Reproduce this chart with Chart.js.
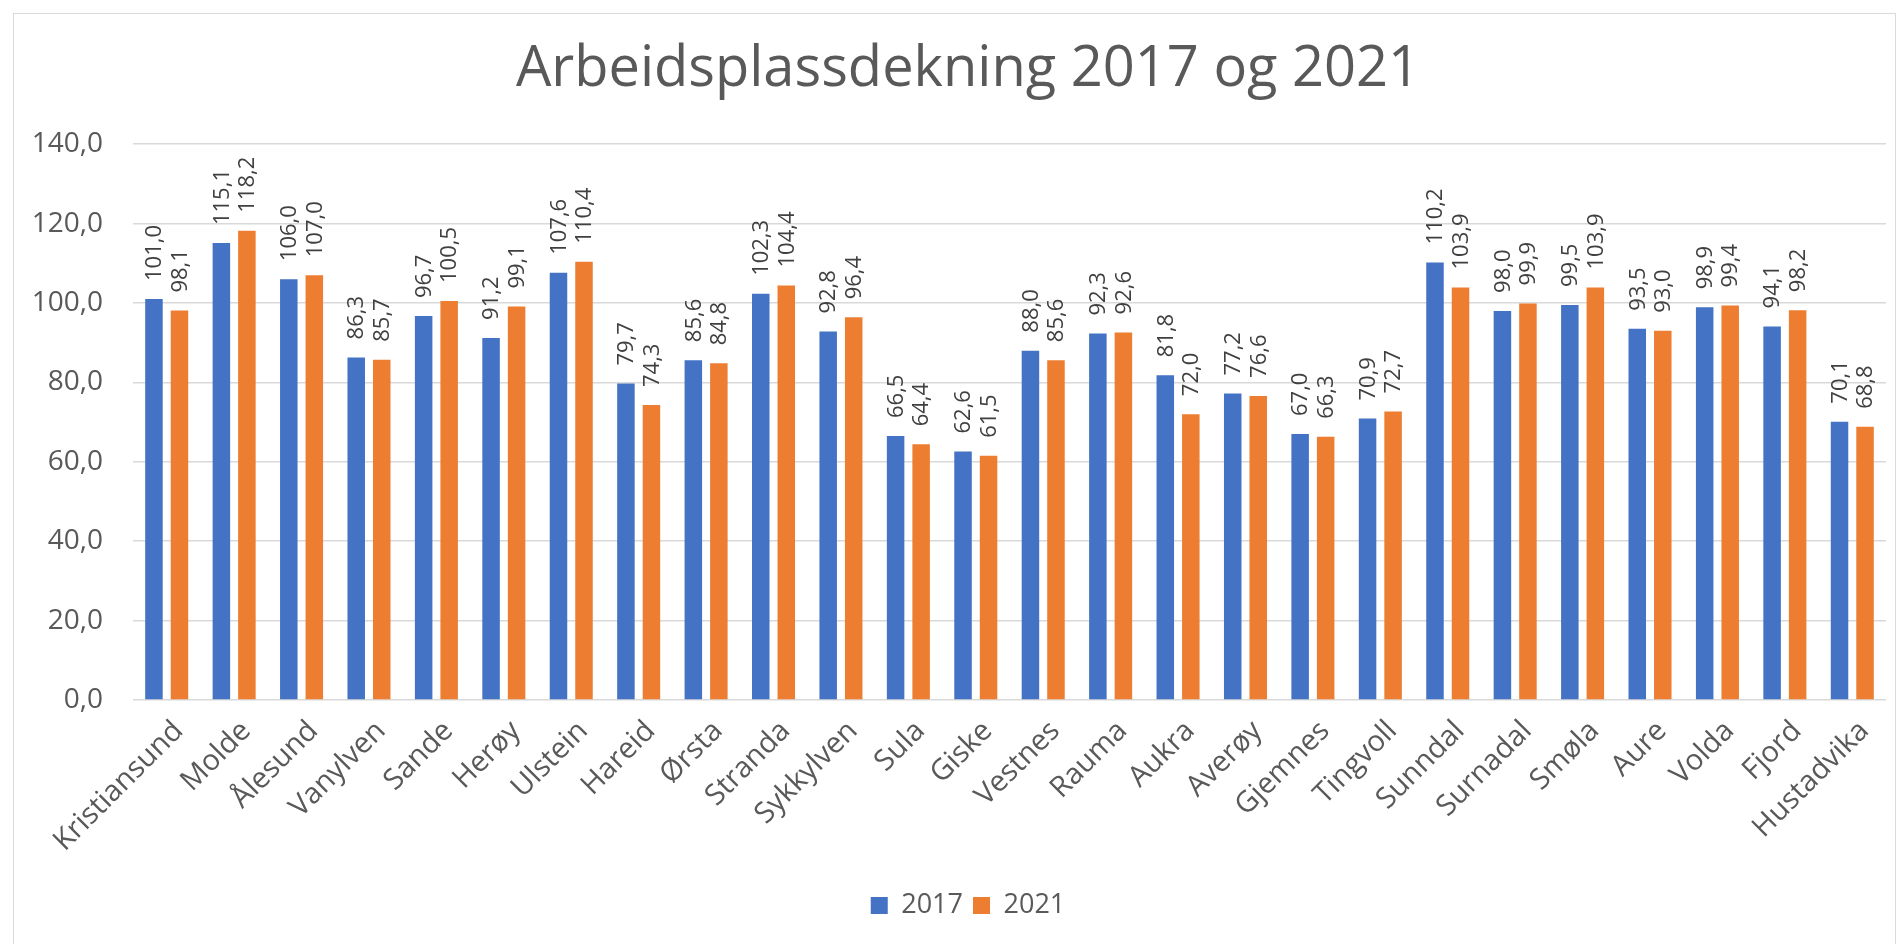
<!DOCTYPE html>
<html>
<head>
<meta charset="utf-8">
<title>Arbeidsplassdekning 2017 og 2021</title>
<script src="https://cdn.jsdelivr.net/npm/chart.js@4.4.0/dist/chart.umd.min.js"></script>
<style>
    body { margin: 0; background: #ffffff; }
    #wrap { position: relative; width: 1897px; height: 944px; overflow: hidden; }
    #frame {
        position: absolute; left: 13px; top: 13px; width: 1881px; height: 950px;
        border: 1px solid #d9d9d9; pointer-events: none;
    }
</style>
</head>
<body>
<div id="wrap">
    <canvas id="jobChart" width="1897" height="944"></canvas>
    <div id="frame"></div>
</div>
<script>
let kommuner = ["Kristiansund", "Molde", "Ålesund", "Vanylven", "Sande", "Herøy", "Ulstein", "Hareid",
    "Ørsta", "Stranda", "Sykkylven", "Sula", "Giske", "Vestnes", "Rauma", "Aukra", "Averøy", "Gjemnes",
    "Tingvoll", "Sunndal", "Surnadal", "Smøla", "Aure", "Volda", "Fjord", "Hustadvika"];

let values2017 = [101.0, 115.1, 106.0, 86.3, 96.7, 91.2, 107.6, 79.7, 85.6, 102.3, 92.8, 66.5, 62.6,
    88.0, 92.3, 81.8, 77.2, 67.0, 70.9, 110.2, 98.0, 99.5, 93.5, 98.9, 94.1, 70.1];

let values2021 = [98.1, 118.2, 107.0, 85.7, 100.5, 99.1, 110.4, 74.3, 84.8, 104.4, 96.4, 64.4, 61.5,
    85.6, 92.6, 72.0, 76.6, 66.3, 72.7, 103.9, 99.9, 103.9, 93.0, 99.4, 98.2, 68.8];

let seriesNames = ["2017", "2021"];
let yTicks = [0, 20, 40, 60, 80, 100, 120, 140];

let textGrey = "#595959";
let fontName = "'Open Sans', 'Liberation Sans', sans-serif";

function norsk(v) {
    return v.toFixed(1).replace(".", ",");
}

// Rotated value labels above each bar
let barLabels = {
    id: "barLabels",
    afterDatasetsDraw: function (chart) {
        let ctx = chart.ctx;
        ctx.save();
        ctx.font = "22px " + fontName;
        ctx.fillStyle = "#404040";
        ctx.textAlign = "left";
        ctx.textBaseline = "middle";
        chart.data.datasets.forEach(function (ds, i) {
            let meta = chart.getDatasetMeta(i);
            meta.data.forEach(function (bar, j) {
                ctx.save();
                ctx.translate(bar.x, bar.y - 18);
                ctx.rotate(-Math.PI / 2);
                ctx.fillText(norsk(ds.data[j]), 0, 1);
                ctx.restore();
            });
        });
        ctx.restore();
    }
};

// Title and legend sit a bit right of the canvas centre in the original
let nudgeBlocks = {
    id: "nudgeBlocks",
    afterLayout: function (chart) {
        [chart.titleBlock, chart.legend].forEach(function (box) {
            if (!box) return;
            box.left += 25;
            box.right += 25;
        });
    }
};

let ctx = document.getElementById("jobChart").getContext("2d");

let chart = new Chart(ctx, {
    type: "bar",
    data: {
        labels: kommuner,
        datasets: [
            {
                label: seriesNames[0],
                data: values2017,
                backgroundColor: "#4472C4",
                categoryPercentage: 0.757,
                barPercentage: 0.686
            },
            {
                label: seriesNames[1],
                data: values2021,
                backgroundColor: "#ED7D31",
                categoryPercentage: 0.757,
                barPercentage: 0.686
            }
        ]
    },
    options: {
        responsive: false,
        animation: false,
        layout: {
            padding: { left: 0, right: 11, top: 0, bottom: 15 }
        },
        plugins: {
            title: {
                display: true,
                text: "Arbeidsplassdekning 2017 og 2021",
                color: textGrey,
                font: { family: fontName, size: 56, weight: "normal", lineHeight: 1.2 },
                padding: { top: 36, bottom: 41 }
            },
            legend: {
                position: "bottom",
                labels: {
                    color: textGrey,
                    boxWidth: 17,
                    boxHeight: 17,
                    padding: 10,
                    font: { family: fontName, size: 27 }
                }
            },
            tooltip: { enabled: false }
        },
        scales: {
            x: {
                grid: { display: false },
                border: { display: false },
                ticks: {
                    color: textGrey,
                    font: { family: fontName, size: 29 },
                    minRotation: 45,
                    maxRotation: 45,
                    autoSkip: false,
                    labelOffset: 12,
                    padding: 6
                },
                afterFit: function (scale) {
                    scale.height = 182;
                }
            },
            y: {
                min: 0,
                max: 140,
                afterBuildTicks: function (scale) {
                    scale.ticks = yTicks.map(function (v) { return { value: v }; });
                },
                grid: { color: "#d9d9d9", lineWidth: 1.5, drawTicks: false },
                border: { display: false },
                ticks: {
                    color: textGrey,
                    font: { family: fontName, size: 28 },
                    padding: 30,
                    callback: function (v) { return norsk(v); }
                },
                afterFit: function (scale) {
                    scale.width = 133;
                }
            }
        }
    },
    plugins: [barLabels, nudgeBlocks]
});
</script>
</body>
</html>
